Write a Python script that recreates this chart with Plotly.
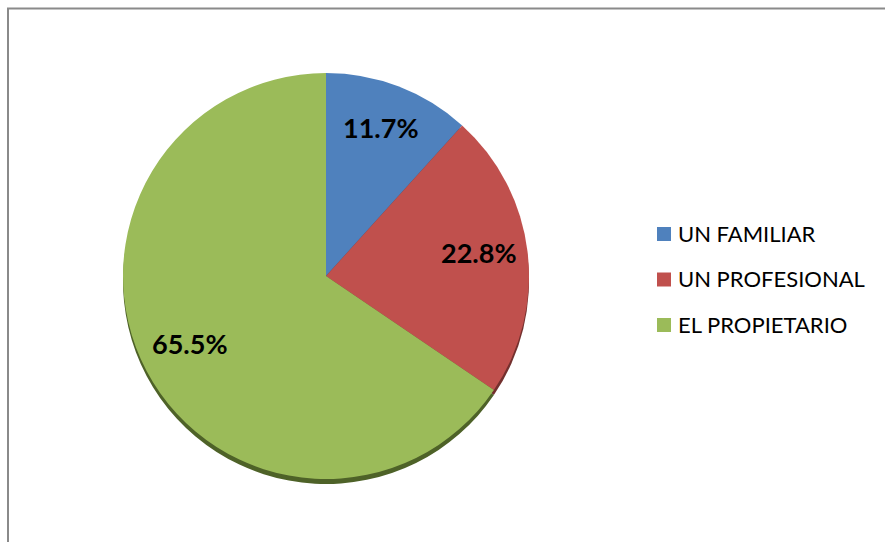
import numpy as np
import plotly.graph_objects as go

# Data
categories = ["UN FAMILIAR", "UN PROFESIONAL", "EL PROPIETARIO"]
shares = [11.7, 22.8, 65.5]
colors = ["#4F81BD", "#C0504D", "#9BBB59"]
shadow_colors = ["#2F4D71", "#73302E", "#4E6228"]

W, H = 885, 542
cx, cy, R = 326, 276, 203          # pie centre and radius in pixels
label_r = 0.76                       # label distance as a fraction of the radius
label_dy = -5                        # small upward nudge of the labels


def px_x(x):
    return x / W


def px_y(y):
    return 1 - y / H


fig = go.Figure()

# thin darker rim under the pie for the raised look
fig.add_trace(go.Pie(
    labels=categories, values=shares, sort=False, direction="clockwise", rotation=0,
    marker=dict(colors=shadow_colors, line=dict(width=0)),
    textinfo="none", hoverinfo="skip", showlegend=False,
    domain=dict(x=[px_x(cx - R), px_x(cx + R)], y=[px_y(cy + R + 5), px_y(cy - R + 5)]),
))

fig.add_trace(go.Pie(
    labels=categories, values=shares, sort=False, direction="clockwise", rotation=0,
    marker=dict(colors=colors, line=dict(width=0)),
    textinfo="none", showlegend=False,
    domain=dict(x=[px_x(cx - R), px_x(cx + R)], y=[px_y(cy + R), px_y(cy - R)]),
))

annotations = []
shapes = []

# percentage labels placed at the middle angle of each slice
total = float(sum(shares))
start = 0.0
for v in shares:
    mid = (start + v / 2) / total * 2 * np.pi
    lx = cx + label_r * R * np.sin(mid)
    ly = cy - label_r * R * np.cos(mid) + label_dy
    annotations.append(dict(
        x=px_x(lx), y=px_y(ly), xref="paper", yref="paper",
        text=f"<b>{v:.1f}%</b>", showarrow=False,
        xanchor="center", yanchor="middle",
        font=dict(family="Lato", size=27, color="#000000"),
    ))
    start += v

# legend: coloured squares with category names
leg_x, leg_y0, leg_dy, sq = 657, 234, 45.5, 14
for i, (name, col) in enumerate(zip(categories, colors)):
    yc = leg_y0 + i * leg_dy
    shapes.append(dict(
        type="rect", xref="paper", yref="paper",
        x0=px_x(leg_x), x1=px_x(leg_x + sq),
        y0=px_y(yc + sq / 2), y1=px_y(yc - sq / 2),
        fillcolor=col, line=dict(width=0),
    ))
    annotations.append(dict(
        x=px_x(leg_x + sq + 5), y=px_y(yc - 1), xref="paper", yref="paper",
        text=name, showarrow=False, xanchor="left", yanchor="middle",
        font=dict(family="Lato", size=22, color="#000000"),
    ))

# chart area frame
shapes.append(dict(
    type="rect", xref="paper", yref="paper",
    x0=px_x(8), x1=px_x(W + 5), y0=px_y(H + 5), y1=px_y(8.5),
    line=dict(color="#8A8A8A", width=2), fillcolor="rgba(0,0,0,0)",
))

fig.update_layout(
    width=W, height=H,
    margin=dict(l=0, r=0, t=0, b=0),
    paper_bgcolor="#FFFFFF",
    plot_bgcolor="#FFFFFF",
    showlegend=False,
    annotations=annotations,
    shapes=shapes,
)

fig.write_html("out.html")
